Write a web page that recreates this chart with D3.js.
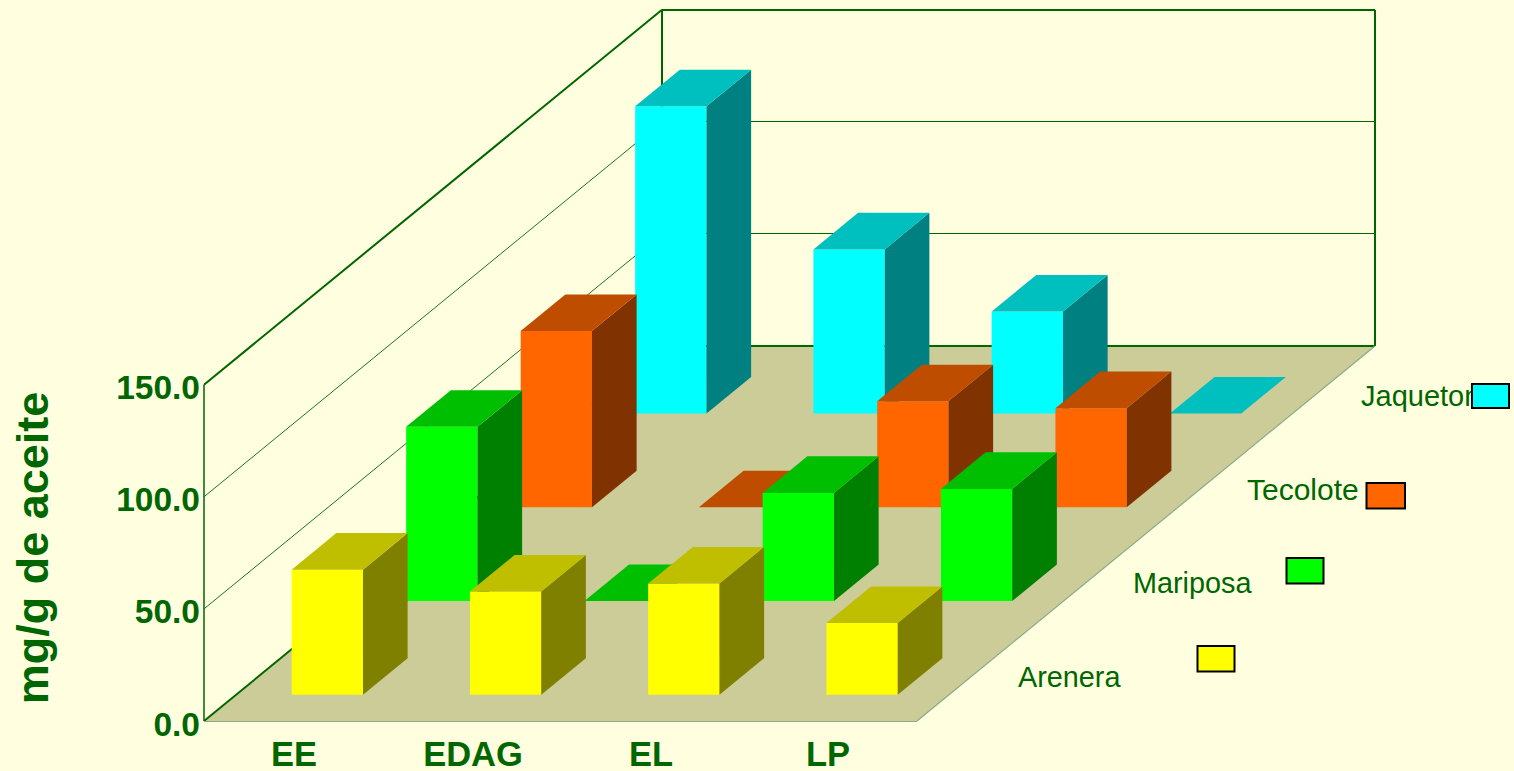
<!DOCTYPE html>
<html><head><meta charset="utf-8">
<script src="https://cdn.jsdelivr.net/npm/d3@7/dist/d3.min.js"></script>
<style>html,body{margin:0;padding:0;background:#ffffe0;overflow:hidden}svg{display:block}text{font-family:"Liberation Sans",Arial,sans-serif}</style>
</head><body><svg id="c" width="1514" height="771"></svg>
<script>
const categories = ["EE","EDAG","EL","LP"];
const seriesNames = ["Arenera","Mariposa","Tecolote","Jaqueton"];
const arenera  = [55.8,46,49.6,32];
const mariposa = [77.7,0,48.2,50];
const tecolote = [78.6,0,47.3,44.2];
const jaqueton = [137,73.2,45.5,0];
const seriesValues = [arenera,mariposa,tecolote,jaqueton];
const yTicks = [0,50,100,150];
const colors = [
 {front:"#ffff00",top:"#bfbf00",side:"#808000"},
 {front:"#00ff00",top:"#00bf00",side:"#008000"},
 {front:"#ff6600",top:"#bf4d00",side:"#803300"},
 {front:"#00ffff",top:"#00bfbf",side:"#008080"}];
const ink="#006600";
const svg=d3.select("#c");
const x=d3.scaleLinear().domain([0,4]).range([204,917]);
const y=d3.scaleLinear().domain([0,150]).range([0,336.3]);
const depthX=d3.scaleLinear().domain([0,4]).range([0,458]);
const depthY=d3.scaleLinear().domain([0,4]).range([0,375]);
const P=(cx,d,v)=>[x(cx)+depthX(d),721-depthY(d)-y(v)];
const poly=(pts,fill)=>svg.append("polygon").attr("points",pts.map(p=>p.join(",")).join(" ")).attr("fill",fill);
const ln=(a,b,w,c,crisp)=>svg.append("line").attr("x1",a[0]).attr("y1",a[1]).attr("x2",b[0]).attr("y2",b[1]).attr("stroke",c||ink).attr("stroke-width",w).attr("shape-rendering",crisp?"crispEdges":"auto");
// floor
poly([P(0,0,0),P(4,0,0),P(4,4,0),P(0,4,0)],"#cccc99");
// grid
yTicks.forEach((t,i)=>{const outer=(i==0||i==3);
 ln(P(0,0,t),P(0,4,t),outer?2:0.9);
 ln(P(0,4,t),P(4,4,t),outer?2:1,ink,true);});
ln(P(0,0,0),P(0,0,150),1.5);ln(P(0,4,0),P(0,4,150),2,ink,true);ln(P(4,4,0),P(4,4,150),2,ink,true);
ln(P(0,0,0),P(4,0,0),1,"#88aa88",true);ln(P(4,0,0),P(4,4,0),1.2,"#88aa88");
// bars back to front
const barW=0.4, barD=0.39;
d3.range(3,-1,-1).forEach(s=>{categories.forEach((c,i)=>{
 const v=seriesValues[s][i], col=colors[s];
 const x0=i+0.312, x1=x0+barW, d0=s+0.28, d1=d0+barD;
 if(v>0){
  poly([P(x0,d0,0),P(x1,d0,0),P(x1,d0,v),P(x0,d0,v)],col.front);
  poly([P(x1,d0,0),P(x1,d1,0),P(x1,d1,v),P(x1,d0,v)],col.side);
 }
 poly([P(x0,d0,v),P(x1,d0,v),P(x1,d1,v),P(x0,d1,v)],col.top);
});});
// y labels
const fmt=d3.format(".1f");
yTicks.forEach(t=>svg.append("text").attr("x",200).attr("y",721-y(t)+14.5).attr("text-anchor","end").attr("font-size",33.5).attr("font-weight","bold").attr("fill",ink).text(fmt(t)));
categories.forEach((c,i)=>svg.append("text").attr("x",[294,473,651,828][i]).attr("y",765.5).attr("text-anchor","middle").attr("font-size",34.5).attr("font-weight","bold").attr("fill",ink).text(c));
svg.append("text").attr("transform","translate(48,548) rotate(-90)").attr("text-anchor","middle").attr("font-size",45).attr("font-weight","bold").attr("fill",ink).text("mg/g de aceite");
// legend
const lx=[1018,1133,1247,1361], ly=[687,593,500,406];
const bx=[1197.5,1286.5,1366.5,1472], by=[646,558,483,384], bw=[37,37,38.5,37], bh=[25.5,25.5,25.5,24];
const lfs=[28.8,28.8,30,29];
seriesNames.forEach((n,i)=>{
 svg.append("text").attr("x",lx[i]).attr("y",ly[i]).attr("font-size",lfs[i]).attr("fill",ink).text(n);
 svg.append("rect").attr("x",bx[i]).attr("y",by[i]).attr("width",bw[i]).attr("height",bh[i]).attr("fill",colors[i].front).attr("stroke","#000").attr("stroke-width",2);
});
</script></body></html>
